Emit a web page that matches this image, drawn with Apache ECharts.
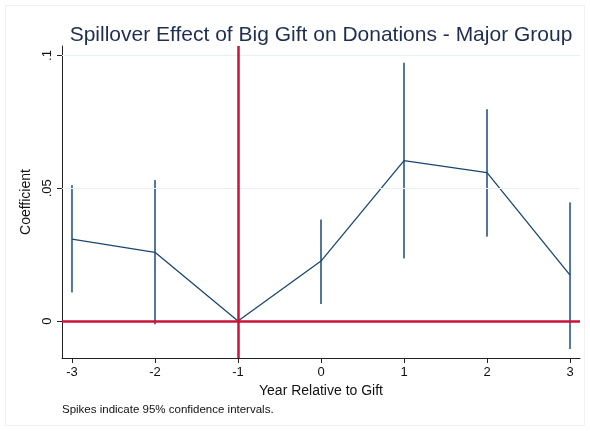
<!DOCTYPE html>
<html>
<head>
<meta charset="utf-8">
<script src="https://cdn.jsdelivr.net/npm/echarts@6/dist/echarts.min.js"></script>
<style>
  html, body { margin: 0; padding: 0; background: #ffffff; }
  #chart { width: 590px; height: 431px; }
</style>
</head>
<body>
<div id="chart"></div>
<script>
// Event-study estimates: year relative to gift, point estimate and 95% CI bounds
const years   = [-3, -2, -1, 0, 1, 2, 3];
const coef    = [0.0309, 0.0259, 0, 0.0226, 0.0604, 0.0559, 0.0173];
const ciLow   = [0.0108, -0.0012, 0, 0.0064, 0.0236, 0.0318, -0.0105];
const ciHigh  = [0.0512, 0.0531, 0, 0.0383, 0.0973, 0.0798, 0.0447];
const xTicks  = [-3, -2, -1, 0, 1, 2, 3];
const yTicks  = [0, 0.05, 0.1];
const yTickLabels = ['0', '.05', '.1'];
const gridValues = [0.05, 0.1];

const NAVY = '#1a476f';
const SPIKE = '#55769b';
const RED = '#cc1039';
const FONT = '"Liberation Sans", Arial, Helvetica, sans-serif';

const chart = echarts.init(document.getElementById('chart'), null, { renderer: 'canvas' });

const linePts = years.map((y, i) => [y, coef[i]]);
const spikePts = years.map((y, i) => [y, ciLow[i], ciHigh[i]]);

chart.setOption({
  backgroundColor: '#ffffff',
  animation: false,
  title: {
    text: 'Spillover Effect of Big Gift on Donations - Major Group',
    left: 316, top: 20, textAlign: 'center',
    textStyle: { fontFamily: FONT, fontSize: 21, fontWeight: 'normal', color: '#1f2d50' }
  },
  graphic: [
    {
      type: 'rect', z: -10, silent: true,
      shape: { x: 5.5, y: 5.5, width: 579, height: 420 },
      style: { fill: 'none', stroke: '#eef2f4', lineWidth: 1 }
    },
    {
      type: 'text', left: 62, top: 404,
      style: { text: 'Spikes indicate 95% confidence intervals.', font: '11.5px ' + FONT, fill: '#111' }
    }
  ],
  grid: { left: 62, right: 10, top: 46, bottom: 73, containLabel: false },
  xAxis: {
    type: 'value', min: -3.12, max: 3.12,
    name: 'Year Relative to Gift', nameLocation: 'middle', nameGap: 18,
    nameTextStyle: { fontFamily: FONT, fontSize: 14, color: '#111', verticalAlign: 'top' },
    axisLine: { show: true, onZero: false, lineStyle: { color: '#222', width: 1 } },
    axisTick: { show: true, customValues: xTicks, length: 5, lineStyle: { color: '#222' } },
    axisLabel: {
      customValues: xTicks, margin: 8,
      fontFamily: FONT, fontSize: 13, color: '#111',
      formatter: v => String(v)
    },
    splitLine: { show: false }
  },
  yAxis: {
    type: 'value', min: -0.0139, max: 0.1036,
    name: 'Coefficient', nameLocation: 'middle', nameGap: 27, nameRotate: 90,
    nameTextStyle: { fontFamily: FONT, fontSize: 14, color: '#111' },
    axisLine: { show: true, onZero: false, lineStyle: { color: '#222', width: 1 } },
    axisTick: { show: true, customValues: yTicks, length: 5, lineStyle: { color: '#222' } },
    axisLabel: {
      customValues: yTicks, rotate: 90, margin: 8,
      fontFamily: FONT, fontSize: 13, color: '#111',
      formatter: v => yTickLabels[yTicks.findIndex(t => Math.abs(t - v) < 1e-9)] ?? ''
    },
    splitLine: { show: false }
  },
  series: [
    {
      // light horizontal grid lines
      type: 'line', data: [], silent: true, z: 1,
      markLine: {
        silent: true, symbol: 'none', label: { show: false },
        lineStyle: { color: '#e9f0f3', width: 1, type: 'solid' },
        data: gridValues.map(v => ({ yAxis: v }))
      }
    },
    {
      // reference lines at zero effect and the gift year
      type: 'line', data: [], silent: true, z: 5,
      markLine: {
        silent: true, symbol: 'none', label: { show: false },
        lineStyle: { color: RED, width: 2.5, type: 'solid' },
        data: [{ yAxis: 0 }, { xAxis: -1 }]
      }
    },
    {
      // 95% CI spikes
      type: 'custom', z: 3,
      data: spikePts,
      renderItem: (params, api) => {
        const lo = api.coord([api.value(0), api.value(1)]);
        const hi = api.coord([api.value(0), api.value(2)]);
        if (Math.abs(lo[1] - hi[1]) < 0.5) return null;
        return {
          type: 'line',
          shape: { x1: lo[0], y1: lo[1], x2: hi[0], y2: hi[1] },
          style: { stroke: SPIKE, lineWidth: 2 }
        };
      }
    },
    {
      // point estimates
      type: 'line', z: 4,
      data: linePts,
      symbol: 'none',
      lineStyle: { color: NAVY, width: 1.3 }
    }
  ]
});
</script>
</body>
</html>
